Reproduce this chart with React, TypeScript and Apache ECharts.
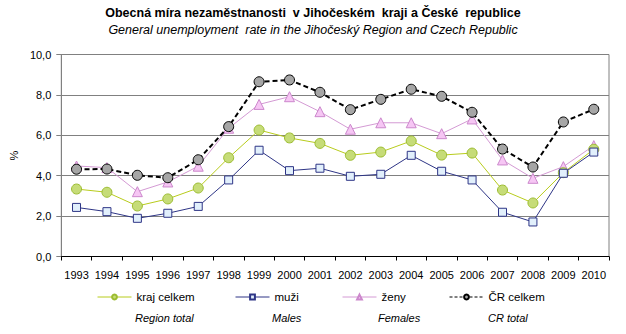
import React, { useEffect, useRef } from "react";
import * as echarts from "echarts";

const years = ["1993","1994","1995","1996","1997","1998","1999","2000","2001","2002","2003","2004","2005","2006","2007","2008","2009","2010"];
const regionTotal = [3.34,3.18,2.50,2.85,3.39,4.89,6.26,5.87,5.60,5.01,5.17,5.72,5.02,5.12,3.29,2.65,4.15,5.31];
const males = [2.43,2.22,1.89,2.14,2.48,3.79,5.26,4.25,4.37,3.97,4.07,5.01,4.22,3.79,2.19,1.71,4.12,5.17];
const females = [4.48,4.40,3.21,3.69,4.47,6.35,7.53,7.91,7.17,6.30,6.62,6.62,6.08,6.81,4.78,3.87,4.45,5.49];
const crTotal = [4.32,4.33,4.02,3.90,4.79,6.43,8.65,8.74,8.13,7.27,7.78,8.28,7.93,7.14,5.32,4.43,6.66,7.29];

const names = ["kraj celkem", "muži", "ženy", "ČR celkem"];
const englishNames = ["Region total", "Males", "Females", "CR total"];

const FONT = "Liberation Sans, Arial, sans-serif";

export default function App() {
  const ref = useRef<HTMLDivElement>(null);
  useEffect(() => {
    if (!ref.current) return;
    const chart = echarts.init(ref.current, null, { renderer: "svg" });
    const legendLeft = [97, 235, 342, 449];
    const engLeft = [135, 272, 378, 488];
    chart.setOption({
      animation: false,
      textStyle: { fontFamily: FONT },
      title: [
        {
          text: "Obecná míra nezaměstnanosti  v Jihočeském  kraji a České  republice",
          left: "center",
          top: 6,
          padding: 0,
          textStyle: { fontSize: 12.5, fontWeight: "bold", color: "#000", fontFamily: FONT },
        },
        {
          text: "General unemployment  rate in the Jihočeský Region and Czech Republic",
          left: "center",
          top: 23,
          padding: 0,
          textStyle: { fontSize: 12.5, fontWeight: "normal", fontStyle: "italic", color: "#000", fontFamily: FONT },
        },
      ],
      grid: {
        left: 54,
        right: 17,
        top: 54.5,
        bottom: 77.5,
        show: true,
        borderColor: "#808080",
        borderWidth: 1,
      },
      legend: names.map((n, i) => ({
        data: [n],
        left: legendLeft[i],
        top: 291,
        padding: 0,
        itemWidth: 34,
        itemHeight: 6,
        itemGap: 3,
        lineStyle: i === 3 ? { width: 1, type: [3, 2] } : { width: 1 },
        textStyle: { fontSize: 11.5, color: "#000", fontFamily: FONT },
        selectedMode: false,
      })),
      graphic: englishNames.map((t, i) => ({
        type: "text",
        left: engLeft[i],
        top: 312,
        style: { text: t, font: `italic 11px ${FONT}`, fill: "#000" },
      })),
      xAxis: {
        type: "category",
        data: years,
        boundaryGap: true,
        axisLine: { lineStyle: { color: "#000" } },
        axisTick: { show: true, length: 4, alignWithLabel: false, lineStyle: { color: "#000" } },
        axisLabel: { fontSize: 11, color: "#000", margin: 13, fontFamily: FONT, interval: 0 },
      },
      yAxis: {
        type: "value",
        min: 0,
        max: 10,
        interval: 2,
        name: "%",
        nameLocation: "middle",
        nameGap: 38,
        nameRotate: 90,
        nameTextStyle: { fontSize: 11, color: "#000", fontFamily: FONT },
        axisLine: { show: true, lineStyle: { color: "#808080" } },
        axisTick: { show: true, length: 5, lineStyle: { color: "#808080" } },
        axisLabel: {
          fontSize: 11,
          color: "#000",
          margin: 10,
          fontFamily: FONT,
          formatter: (v: number) => v.toFixed(1).replace(".", ","),
        },
        splitLine: { show: true, lineStyle: { color: "#808080", width: 1 } },
      },
      series: [
        {
          name: names[0],
          type: "line",
          data: regionTotal,
          symbol: "circle",
          symbolSize: 10,
          lineStyle: { color: "#b8cc1c", width: 1 },
          itemStyle: { color: "#c6dc78", borderColor: "#9cbc30", borderWidth: 1 },
          z: 3,
        },
        {
          name: names[1],
          type: "line",
          data: males,
          symbol: "rect",
          symbolSize: 8,
          lineStyle: { color: "#2e3586", width: 1 },
          itemStyle: { color: "#e2f0fc", borderColor: "#2e3586", borderWidth: 1 },
          z: 3,
        },
        {
          name: names[2],
          type: "line",
          data: females,
          symbol: "triangle",
          symbolSize: 10,
          lineStyle: { color: "#d49ad4", width: 1 },
          itemStyle: { color: "#f6c6f4", borderColor: "#cc88cc", borderWidth: 1 },
          z: 2,
        },
        {
          name: names[3],
          type: "line",
          data: crTotal,
          symbol: "circle",
          symbolSize: 10,
          lineStyle: { color: "#000", width: 2, type: [5, 3] },
          itemStyle: { color: "#a6a6a6", borderColor: "#000", borderWidth: 1 },
          z: 4,
        },
      ],
    });
    return () => chart.dispose();
  }, []);
  return (
    <div
      ref={ref}
      style={{ width: 626, height: 334, position: "absolute", left: 0, top: 0 }}
    />
  );
}
